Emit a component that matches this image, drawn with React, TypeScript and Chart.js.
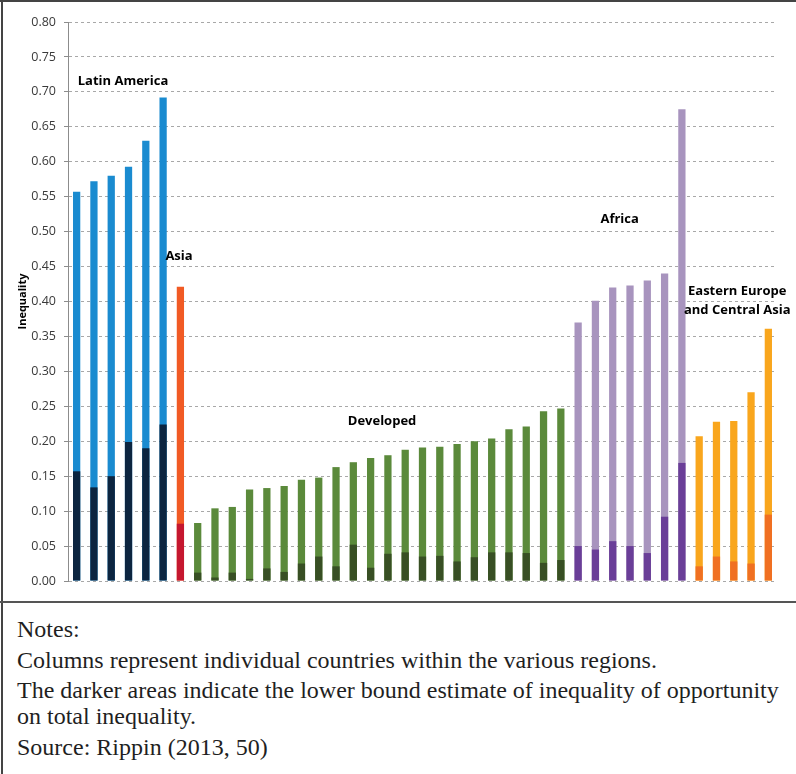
import React, { useEffect, useRef } from "react";
import { Chart, registerables } from "chart.js";

Chart.register(...registerables);

// ---- Data ----
const REGION_NAMES = ["Latin America", "Asia", "Developed", "Africa", "Eastern Europe and Central Asia"];

const LATIN_AMERICA_TOTAL = [0.557, 0.572, 0.58, 0.593, 0.63, 0.692];
const LATIN_AMERICA_LOWER = [0.157, 0.134, 0.15, 0.199, 0.19, 0.224];

const ASIA_TOTAL = [0.421];
const ASIA_LOWER = [0.082];

const DEVELOPED_TOTAL = [
  0.083, 0.104, 0.106, 0.131, 0.133, 0.136, 0.145, 0.148, 0.163, 0.17, 0.176,
  0.18, 0.188, 0.191, 0.192, 0.196, 0.2, 0.204, 0.217, 0.221, 0.243, 0.247,
];
const DEVELOPED_LOWER = [
  0.012, 0.005, 0.012, 0.003, 0.018, 0.013, 0.025, 0.035, 0.021, 0.052, 0.019,
  0.039, 0.041, 0.035, 0.036, 0.028, 0.034, 0.041, 0.041, 0.04, 0.026, 0.03,
];

const AFRICA_TOTAL = [0.37, 0.401, 0.42, 0.423, 0.43, 0.44, 0.675];
const AFRICA_LOWER = [0.05, 0.045, 0.057, 0.05, 0.04, 0.092, 0.169];

const EECA_TOTAL = [0.207, 0.228, 0.229, 0.27, 0.361];
const EECA_LOWER = [0.021, 0.035, 0.028, 0.025, 0.095];

const REGION_TOTALS = [LATIN_AMERICA_TOTAL, ASIA_TOTAL, DEVELOPED_TOTAL, AFRICA_TOTAL, EECA_TOTAL];
const REGION_LOWERS = [LATIN_AMERICA_LOWER, ASIA_LOWER, DEVELOPED_LOWER, AFRICA_LOWER, EECA_LOWER];

const LIGHT_COLORS = ["#1A8BD0", "#F15A24", "#5B8A3B", "#A894BE", "#F9A61D"];
const DARK_COLORS = ["#0C2540", "#C5172F", "#384F24", "#6A3E98", "#F07022"];

const Y_MIN = 0;
const Y_MAX = 0.8;
const Y_STEP = 0.05;

// Region annotations: x in category index units, y in data units
const REGION_LABELS = [
  { text: "Latin America", x: 2.68, y: 0.715 },
  { text: "Asia", x: 5.92, y: 0.464 },
  { text: "Developed", x: 17.66, y: 0.229 },
  { text: "Africa", x: 31.4, y: 0.517 },
  { text: "Eastern Europe", x: 38.2, y: 0.414 },
  { text: "and Central Asia", x: 38.2, y: 0.387 },
];

const NOTES_LINES = [
  "Notes:",
  "Columns represent individual countries within the various regions.",
  "The darker areas indicate the lower bound estimate of inequality of opportunity",
  "on total inequality.",
  "Source: Rippin (2013, 50)",
];

// ---- Build the table the library needs ----
const labels: string[] = [];
const totals: number[] = [];
const lowers: number[] = [];
const lightBar: string[] = [];
const darkBar: string[] = [];
REGION_TOTALS.forEach((arr, r) => {
  arr.forEach((v, i) => {
    labels.push(`${REGION_NAMES[r]} ${i + 1}`);
    totals.push(v);
    lowers.push(REGION_LOWERS[r][i]);
    lightBar.push(LIGHT_COLORS[r]);
    darkBar.push(DARK_COLORS[r]);
  });
});

const regionLabelPlugin = {
  id: "regionLabels",
  afterDatasetsDraw(chart: any) {
    const { ctx, scales } = chart;
    const xs = scales.x;
    const ys = scales.y;
    ctx.save();
    ctx.font = "bold 13px 'Open Sans'";
    ctx.fillStyle = "#000";
    ctx.textAlign = "center";
    ctx.textBaseline = "middle";
    for (const l of REGION_LABELS) {
      ctx.fillText(l.text, xs.getPixelForValue(l.x), ys.getPixelForValue(l.y));
    }
    ctx.restore();
  },
};

function InequalityChart() {
  const ref = useRef<HTMLCanvasElement | null>(null);
  useEffect(() => {
    if (!ref.current) return;
    const chart = new Chart(ref.current, {
      type: "bar",
      data: {
        labels,
        datasets: [
          {
            label: "Lower bound (inequality of opportunity)",
            data: lowers,
            backgroundColor: darkBar,
            order: 0,
            grouped: false,
            barPercentage: 0.42,
            categoryPercentage: 1,
          } as any,
          {
            label: "Total inequality",
            data: totals,
            backgroundColor: lightBar,
            order: 1,
            grouped: false,
            barPercentage: 0.42,
            categoryPercentage: 1,
          } as any,
        ],
      },
      options: {
        animation: false,
        responsive: true,
        maintainAspectRatio: false,
        layout: { padding: { top: 22, bottom: 20, left: 0, right: 19 } },
        plugins: {
          legend: { display: false },
          tooltip: { enabled: false },
        },
        scales: {
          x: { display: false },
          y: {
            min: Y_MIN,
            max: Y_MAX,
            afterFit: (s: any) => {
              s.width = 68;
            },
            ticks: {
              stepSize: Y_STEP,
              padding: 8,
              color: "#3a3a3a",
              font: { family: "'Open Sans'", size: 12.5 },
              callback: (v: any) => Number(v).toFixed(2),
            },
            grid: {
              color: "#a8a8a8",
              lineWidth: 1,
              tickLength: 4,
              tickColor: "#8c8c8c",
              drawTicks: true,
            },
            border: { display: true, color: "#8c8c8c", width: 1, dash: [3, 3] },
            title: {
              display: true,
              text: "Inequality",
              color: "#000",
              font: { family: "'Open Sans'", size: 11, weight: "bold" },
              padding: { top: 16, bottom: 0 },
            },
          },
        },
      },
      plugins: [regionLabelPlugin],
    });
    return () => chart.destroy();
  }, []);
  return <canvas ref={ref} />;
}

export default function App() {
  const serif = "'Liberation Serif', 'Times New Roman', serif";
  const lineStyle: React.CSSProperties = {
    position: "absolute",
    left: 17,
    fontFamily: serif,
    fontSize: 24,
    lineHeight: "26px",
    color: "#1f1f1f",
    whiteSpace: "nowrap",
  };
  return (
    <div style={{ position: "absolute", left: 0, top: 0, width: 796, height: 774, background: "#fff", overflow: "hidden" }}>
      <div style={{ position: "absolute", left: 0, top: 0, width: 796, height: 601 }}>
        <InequalityChart />
      </div>
      {/* frame lines */}
      <div style={{ position: "absolute", left: 0, top: 0, width: 796, height: 2, background: "#444" }} />
      <div style={{ position: "absolute", left: 1, top: 0, width: 2, height: 774, background: "#444" }} />
      <div style={{ position: "absolute", left: 0, top: 601, width: 796, height: 2, background: "#555" }} />
      {/* notes */}
      <div style={{ ...lineStyle, top: 616 }}>{NOTES_LINES[0]}</div>
      <div style={{ ...lineStyle, top: 647 }}>{NOTES_LINES[1]}</div>
      <div style={{ ...lineStyle, top: 677, width: 760, textAlign: "justify", textAlignLast: "justify" }}>{NOTES_LINES[2]}</div>
      <div style={{ ...lineStyle, top: 703 }}>{NOTES_LINES[3]}</div>
      <div style={{ ...lineStyle, top: 734 }}>{NOTES_LINES[4]}</div>
    </div>
  );
}
